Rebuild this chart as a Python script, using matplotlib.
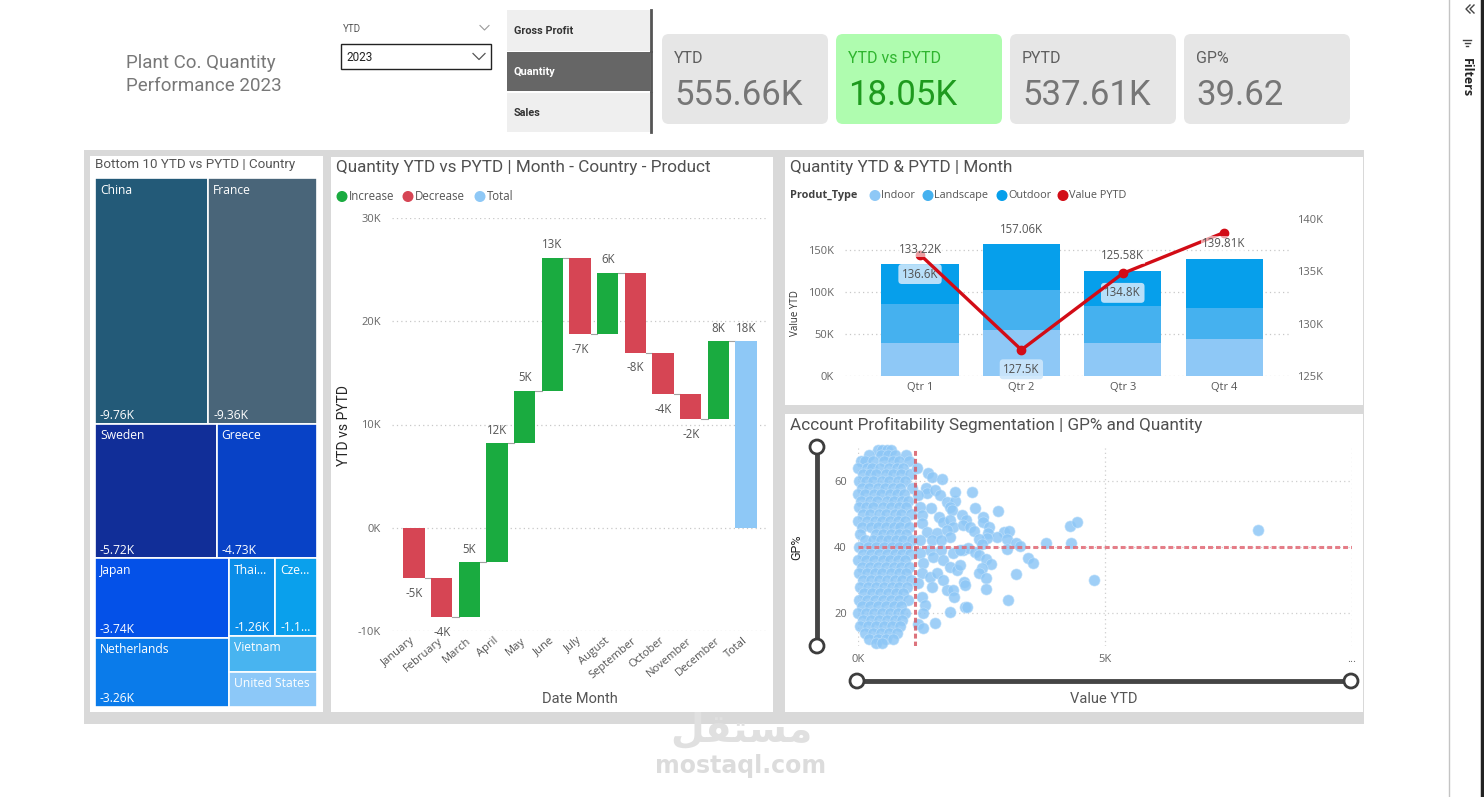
import matplotlib
matplotlib.use("Agg")
import matplotlib.pyplot as plt
from matplotlib.patches import Rectangle, FancyBboxPatch, Circle
import numpy as np

W, H = 1484, 797
DIN = ['Roboto', 'DejaVu Sans']
SEGOE = ['Open Sans', 'DejaVu Sans']

# ---- data ----
kpi_labels = ["YTD", "YTD vs PYTD", "PYTD", "GP%"]
kpi_values = ["555.66K", "18.05K", "537.61K", "39.62"]
buttons = ["Gross Profit", "Quantity", "Sales"]

countries = ["China", "France", "Sweden", "Greece", "Japan", "Netherlands",
             "Thailand", "Czechia", "Vietnam", "United States"]
country_diff_k = [-9.76, -9.36, -5.72, -4.73, -3.74, -3.26, -1.26, -1.13, -1.12, -1.08]
country_colors = ['#235a78', '#496579', '#112e98', '#0842c6', '#0451e8', '#0a7bea',
                  '#0a8de8', '#0aa0ec', '#48b4f0', '#8cc8f8']
short_names = {"Thailand": "Thai...", "Czechia": "Cze..."}

months = ["January", "February", "March", "April", "May", "June", "July",
          "August", "September", "October", "November", "December"]
month_diff_k = [-4.87, -3.81, 5.33, 11.51, 5.13, 12.87, -7.42, 5.97, -7.75, -3.98, -2.45, 7.52]

quarters = ["Qtr 1", "Qtr 2", "Qtr 3", "Qtr 4"]
indoor_k = [39.5, 54.5, 39.5, 44.3]
landscape_k = [45.9, 47.5, 43.5, 36.3]
outdoor_k = [47.82, 55.06, 42.58, 59.21]
pytd_k = [136.6, 127.5, 134.8, 138.71]

# scatter: dense cluster read row by row (GP% row, Value YTD in K)
blob_gp = [69.5, 68, 66, 64, 62, 60, 58, 56, 54, 52, 50, 48, 46, 44, 42, 40, 38, 36,
           34, 32, 30, 28, 26, 24, 22, 20, 18, 16, 14, 12, 11]
blob_val = [
    [0.40, 0.48, 0.58, 0.66],
    [0.22, 0.46, 0.60, 0.74, 0.98],
    [0.06, 0.14, 0.30, 0.52, 0.70, 0.84, 1.04],
    [0.00, 0.18, 0.28, 0.44, 0.62, 0.78, 0.92],
    [0.10, 0.24, 0.36, 0.56, 0.70, 0.88, 1.06],
    [0.02, 0.16, 0.30, 0.48, 0.62, 0.80, 0.96],
    [0.08, 0.22, 0.40, 0.54, 0.70, 0.86, 1.10],
    [0.00, 0.14, 0.32, 0.46, 0.64, 0.78, 0.94],
    [0.06, 0.24, 0.38, 0.58, 0.72, 0.90, 1.02],
    [0.02, 0.16, 0.30, 0.50, 0.66, 0.82, 0.98],
    [0.10, 0.24, 0.42, 0.56, 0.74, 0.88, 1.08],
    [0.00, 0.18, 0.34, 0.48, 0.64, 0.80, 0.96],
    [0.08, 0.26, 0.40, 0.56, 0.72, 0.86, 1.04],
    [0.04, 0.36, 0.50, 0.66, 0.82, 0.98],
    [0.14, 0.30, 0.46, 0.60, 0.76, 0.92, 1.10],
    [0.02, 0.20, 0.36, 0.52, 0.68, 0.84, 1.00],
    [0.10, 0.26, 0.42, 0.58, 0.74, 0.90, 1.06],
    [0.00, 0.16, 0.32, 0.50, 0.64, 0.80, 0.96],
    [0.08, 0.24, 0.40, 0.56, 0.72, 0.88, 1.04],
    [0.02, 0.18, 0.34, 0.48, 0.66, 0.82, 0.98],
    [0.10, 0.26, 0.42, 0.58, 0.74, 0.90, 1.08],
    [0.04, 0.20, 0.36, 0.52, 0.68, 0.84, 1.00],
    [0.12, 0.28, 0.44, 0.60, 0.76, 0.92],
    [0.02, 0.18, 0.34, 0.50, 0.66, 0.82, 1.02],
    [0.08, 0.24, 0.40, 0.56, 0.72, 0.88],
    [0.00, 0.16, 0.32, 0.48, 0.64, 0.80, 0.96],
    [0.10, 0.26, 0.42, 0.58, 0.74, 0.90],
    [0.04, 0.20, 0.36, 0.52, 0.68, 0.86],
    [0.14, 0.30, 0.46, 0.62, 0.78],
    [0.22, 0.40, 0.56, 0.70],
    [0.36, 0.48],
]
# scattered accounts outside the cluster (Value YTD K, GP%)
outliers = [
    (1.19, 63.8), (1.41, 62.3), (1.49, 61.3), (1.71, 60.5), (1.38, 57.8), (1.40, 56.3),
    (1.56, 57.3), (1.22, 55.8), (1.66, 55.8), (1.80, 53.7), (1.96, 53.9), (1.96, 56.8),
    (1.48, 51.9), (1.26, 52.2), (1.86, 52.2), (1.90, 51.2), (1.63, 49.2), (1.73, 47.7),
    (1.86, 48.2), (1.93, 46.0), (1.29, 49.7), (1.29, 47.2), (1.39, 44.6), (1.59, 44.2),
    (1.80, 45.2), (1.86, 43.1), (1.49, 42.1), (1.69, 42.1), (1.26, 42.1), (1.46, 39.1),
    (1.69, 39.1), (1.93, 38.1), (1.26, 38.1), (1.32, 35.1), (1.52, 37.1), (1.73, 36.1),
    (1.86, 34.0), (2.00, 33.0), (1.29, 32.0), (1.46, 31.0), (1.59, 32.0), (1.73, 30.0),
    (1.22, 29.0), (1.49, 28.0), (1.80, 27.0), (1.93, 27.0), (1.29, 24.9), (1.36, 22.4),
    (1.31, 19.9), (1.86, 20.4), (1.94, 24.9), (1.56, 17.1), (1.22, 16.7), (1.31, 15.4),
    (2.31, 56.8), (2.37, 51.9), (2.84, 50.9), (2.54, 49.2), (2.54, 47.7), (2.10, 49.7),
    (2.19, 48.2), (2.13, 46.7), (2.27, 46.2), (2.35, 44.9), (2.66, 46.0), (2.64, 44.2),
    (4.29, 46.5), (4.43, 47.7), (2.96, 44.6), (3.06, 44.8), (2.82, 42.9), (3.02, 42.4),
    (2.62, 42.6), (2.45, 42.3), (2.52, 40.8), (3.20, 41.1), (3.27, 40.3), (3.81, 41.1),
    (4.31, 41.1), (3.02, 39.5), (2.13, 39.1), (2.23, 39.6), (2.37, 38.6), (2.44, 37.6),
    (2.60, 36.3), (2.69, 34.8), (2.50, 33.7), (2.45, 32.0), (2.60, 30.7), (3.45, 36.6),
    (3.55, 35.1), (3.20, 31.7), (4.78, 30.0), (2.06, 34.5), (2.15, 29.5), (2.17, 28.5),
    (2.60, 27.3), (3.03, 23.9), (2.17, 21.9), (2.21, 21.7), (8.10, 45.2), (2.06, 39.1),
]
gp_target = 40
value_target_k = 1.15

GREEN, RED, TOTAL = '#1aab40', '#d64554', '#8ec8f6'
INDOOR, LANDSCAPE, OUTDOOR, LINE = '#8ec8f6', '#45b1ef', '#069feb', '#d20c16'
DOT_BLUE = '#8ec7f6'

fig = plt.figure(figsize=(W / 100, H / 100), dpi=100)
bg = fig.add_axes([0, 0, 1, 1], zorder=0)
bg.set_xlim(0, W)
bg.set_ylim(H, 0)
bg.axis('off')


def px_axes(x0, y0, x1, y1):
    a = fig.add_axes([x0 / W, 1 - y1 / H, (x1 - x0) / W, (y1 - y0) / H], zorder=2)
    a.set_facecolor('none')
    return a


def txt(x, y, s, size=9, color='#333333', family=SEGOE, ha='left', va='center', **kw):
    bg.text(x, y, s, fontsize=size, color=color, family=family, ha=ha, va=va, **kw)


def box(x0, y0, x1, y1, color, **kw):
    bg.add_patch(Rectangle((x0, y0), x1 - x0, y1 - y0, facecolor=color, edgecolor='none', **kw))


# ---- page and panels ----
box(84, 5, 1364, 724, '#d9d9d9')
box(84, 5, 1364, 150, 'white')
box(90, 156, 323, 712, 'white')
box(331, 157, 773, 712, 'white')
box(785, 157, 1363, 405, 'white')
box(785, 414, 1363, 712, 'white')

# filters pane
bg.plot([1449, 1449], [0, H], color='#c4c4c4', lw=1)
bg.plot([1482, 1482], [0, H], color='#222222', lw=2.5)
txt(1466, 78, "Filters", size=9, color='#222222', rotation=270, ha='center', weight='bold')
bg.plot([1470, 1466, 1470], [5, 9, 13], color='#444444', lw=1)
bg.plot([1474, 1470, 1474], [5, 9, 13], color='#444444', lw=1)
for y, hw in [(40, 4), (43, 2.5), (46, 1)]:
    bg.plot([1467 - hw, 1467 + hw], [y, y], color='#444444', lw=1)

# watermark
txt(741, 731, "\ufede\ufed8\ufe98\ufeb4\ufee3", size=28, color='#e0e0e0',
    family=['DejaVu Sans'], ha='center', weight='bold')
txt(741, 766, "mostaql.com", size=17, color='#dcdcdc', family=['DejaVu Sans'],
    ha='center', weight='bold')

# ---- header ----
txt(126, 63, "Plant Co. Quantity", size=13.5, color='#787878', family=DIN)
txt(126, 86, "Performance 2023", size=13.5, color='#787878', family=DIN)

txt(343, 29, "YTD", size=7, color='#555555', family=DIN)
bg.plot([480, 484.5, 489], [25.5, 30, 25.5], color='#9a9a9a', lw=0.8)
bg.add_patch(Rectangle((341, 44), 150, 25, facecolor='white', edgecolor='#222222', lw=1))
txt(346, 57, "2023", size=8.5, color='#222222', family=DIN)
bg.plot([473, 479, 485], [53.5, 59.5, 53.5], color='#555555', lw=0.9)

btn_rows = [(10, 51), (52, 91), (93, 132)]
for name, (y0, y1) in zip(buttons, btn_rows):
    active = name == "Quantity"
    box(507, y0, 650, y1, '#666666' if active else '#efefef')
    txt(514, (y0 + y1) / 2, name, size=7.8, color='white' if active else '#333333',
        weight='bold', family=DIN)
    bg.plot([651, 651], [y0, y1], color='#555555', lw=2)

card_x = [662, 836, 1010, 1184]
for x0, lab, val in zip(card_x, kpi_labels, kpi_values):
    good = lab == "YTD vs PYTD"
    bg.add_patch(FancyBboxPatch((x0, 34), 166, 90, boxstyle="round,pad=0,rounding_size=7",
                                facecolor='#affcaf' if good else '#e6e6e6', edgecolor='none'))
    txt(x0 + 12, 58, lab, size=11.5, color='#2fb52f' if good else '#5f5f5f', family=DIN)
    txt(x0 + 12, 95, val, size=25, color='#1e9a1e' if good else '#767676', family=DIN)

# ---- treemap ----
txt(95, 164, "Bottom 10 YTD vs PYTD | Country", size=9.6, color='#555555', family=DIN)
tm_w, tm_h = 222, 529


def squarify(vals, x0, y0, x1, y1, ratio=(1 + 5 ** 0.5) / 2):
    rects, remaining, i0, n = [], sum(vals), 0, len(vals)
    while i0 < n:
        dx, dy = x1 - x0, y1 - y0
        s = mn = mx = vals[i0]
        alpha = max(dy / dx, dx / dy) / (remaining * ratio)
        beta = s * s * alpha
        best = max(mx / beta, beta / mn)
        i1 = i0 + 1
        while i1 < n:
            v = vals[i1]
            beta = (s + v) ** 2 * alpha
            r = max(max(mx, v) / beta, beta / min(mn, v))
            if r > best:
                break
            s += v
            mn, mx, best = min(mn, v), max(mx, v), r
            i1 += 1
        if dx < dy:
            h = dy * s / remaining
            xx = x0
            for v in vals[i0:i1]:
                rects.append((xx, y0, dx * v / s, h))
                xx += dx * v / s
            y0 += h
        else:
            w = dx * s / remaining
            yy = y0
            for v in vals[i0:i1]:
                rects.append((x0, yy, w, dy * v / s))
                yy += dy * v / s
            x0 += w
        remaining -= s
        i0 = i1
    return rects


tm = px_axes(95, 178, 95 + tm_w, 178 + tm_h)
tm.set_xlim(0, tm_w)
tm.set_ylim(tm_h, 0)
tm.axis('off')
tiles = squarify([abs(v) for v in country_diff_k], 0, 0, tm_w, tm_h)
for (x, y, w, h), name, val, col in zip(tiles, countries, country_diff_k, country_colors):
    tm.add_patch(Rectangle((x, y), w, h, facecolor=col, edgecolor='white', lw=1.2))
    shown = short_names.get(name, name) if w < 60 else name
    tm.text(x + 5, y + 12, shown, color='white', fontsize=8.7, family=SEGOE, va='center')
    if h > 60:
        vs = f"{val:.2f}K"
        if w < 44:
            vs = vs[:4] + "..."
        tm.text(x + 5, y + h - 8, vs, color='white', fontsize=8.7, family=SEGOE, va='center')

# ---- waterfall ----
txt(336, 167, "Quantity YTD vs PYTD | Month - Country - Product", size=12.3,
    color='#505050', family=DIN)
for x, c, lab in [(342, GREEN, "Increase"), (408, RED, "Decrease"), (480, TOTAL, "Total")]:
    bg.add_patch(Circle((x, 196.5), 4.8, color=c))
    txt(x + 7, 196.5, lab, size=8.3, color='#555555')

wf = px_axes(392, 218, 768, 631)
cum = np.concatenate([[0], np.cumsum(month_diff_k)])
bw = 0.78
for i, d in enumerate(month_diff_k):
    lo, hi = sorted((cum[i], cum[i + 1]))
    wf.bar(i, hi - lo, bottom=lo, width=bw, color=GREEN if d > 0 else RED, zorder=3)
    if d > 0:
        wf.annotate(f"{round(d)}K", (i, hi), xytext=(0, 9.5), textcoords='offset points',
                    ha='center', va='center', fontsize=8.3, color='#555555', family=SEGOE)
    else:
        wf.annotate(f"{round(d)}K", (i, lo), xytext=(0, -11), textcoords='offset points',
                    ha='center', va='center', fontsize=8.3, color='#555555', family=SEGOE)
    wf.plot([i + bw / 2, i + 1 - bw / 2], [cum[i + 1]] * 2, color='#a0a0a0', lw=0.8, zorder=2)
total = cum[-1]
wf.bar(12, total, width=bw, color=TOTAL, zorder=3)
wf.annotate(f"{round(total)}K", (12, total), xytext=(0, 9.5), textcoords='offset points',
            ha='center', va='center', fontsize=8.3, color='#555555', family=SEGOE)
wf.set_xlim(-0.795, 12.795)
wf.set_ylim(-10, 30)
wf.set_yticks([-10, 0, 10, 20, 30])
wf.set_yticklabels([f"{t}K" for t in [-10, 0, 10, 20, 30]], family=SEGOE)
wf.set_xticks(range(13))
wf.set_xticklabels(months + ["Total"], rotation=40, ha='right', va='center',
                   rotation_mode='anchor', family=SEGOE)
wf.tick_params(axis='y', length=0, labelsize=8, labelcolor='#666666', pad=8)
wf.tick_params(axis='x', length=0, labelsize=8, labelcolor='#555555', pad=6)
wf.yaxis.grid(True, linestyle=(0, (1, 2.5)), color='#c8c8c8', lw=0.9)
wf.set_axisbelow(True)
for s in wf.spines.values():
    s.set_visible(False)
txt(344, 425, "YTD vs PYTD", size=10, color='#252525', family=DIN, rotation=90, ha='center')
txt(580, 699, "Date Month", size=10.5, color='#555555', family=DIN, ha='center')

# ---- combo chart ----
txt(790, 167, "Quantity YTD & PYTD | Month", size=12.3, color='#505050', family=DIN)
txt(790, 195.5, "Produt_Type", size=7.8, color='#404040', weight='bold')
for x, c, lab in [(875, INDOOR, "Indoor"), (928, LANDSCAPE, "Landscape"),
                  (1002, OUTDOOR, "Outdoor"), (1063, LINE, "Value PYTD")]:
    bg.add_patch(Circle((x, 195.5), 4.8, color=c))
    txt(x + 6, 195.5, lab, size=7.8, color='#555555')
txt(795, 313, "Value YTD", size=7, color='#303030', rotation=90, ha='center')

cb = px_axes(845, 219, 1290, 376)
xq = np.arange(len(quarters))
ind, lsc, out = np.array(indoor_k), np.array(landscape_k), np.array(outdoor_k)
cb.bar(xq, ind, width=0.76, color=INDOOR, zorder=3)
cb.bar(xq, lsc, bottom=ind, width=0.76, color=LANDSCAPE, zorder=3)
cb.bar(xq, out, bottom=ind + lsc, width=0.76, color=OUTDOOR, zorder=3)
cb.set_xlim(-0.74, 3.65)
cb.set_ylim(0, 186.9)
cb.set_yticks([0, 50, 100, 150])
cb.set_yticklabels([f"{t}K" for t in [0, 50, 100, 150]], family=SEGOE)
cb.set_xticks(xq)
cb.set_xticklabels(quarters, family=SEGOE)
cb.tick_params(axis='y', length=0, labelsize=8, labelcolor='#666666', pad=8)
cb.tick_params(axis='x', length=0, labelsize=8, labelcolor='#555555', pad=4)
cb.yaxis.grid(True, linestyle=(0, (1, 2.5)), color='#c8c8c8', lw=0.9)
cb.set_axisbelow(True)
for s in cb.spines.values():
    s.set_visible(False)

cr = cb.twinx()
cr.set_facecolor('none')
cr.set_ylim(125, 140)
cr.set_yticks([125, 130, 135, 140])
cr.set_yticklabels([f"{t}K" for t in [125, 130, 135, 140]], family=SEGOE)
cr.tick_params(axis='y', length=0, labelsize=8, labelcolor='#666666', pad=5)
for s in cr.spines.values():
    s.set_visible(False)
for i in range(3):
    cr.annotate(f"{pytd_k[i]:.1f}K", (xq[i], pytd_k[i]), xytext=(0, -14),
                textcoords='offset points', ha='center', va='center', fontsize=8.3,
                color='#505050', family=SEGOE, zorder=4,
                bbox=dict(boxstyle='round,pad=0.3', facecolor='#cde7fb', edgecolor='none',
                          alpha=0.9))
cr.plot(xq, pytd_k, color=LINE, lw=2.4, marker='o', ms=6, zorder=5)
totals = ind + lsc + out
for i, t in enumerate(totals):
    cr.annotate(f"{t:.2f}K", (xq[i], t), xycoords=cb.transData, xytext=(0, 10.5),
                textcoords='offset points', ha='center', va='center', fontsize=8.3,
                color='#555555', family=SEGOE, zorder=6,
                bbox=dict(boxstyle='square,pad=0.1', facecolor='white', edgecolor='none',
                          alpha=0.6))

# ---- scatter ----
txt(790, 425, "Account Profitability Segmentation | GP% and Quantity", size=12.3,
    color='#505050', family=DIN)
sc = px_axes(858, 448, 1352, 646)
bx = [v for row in blob_val for v in row]
by = [g for g, row in zip(blob_gp, blob_val) for _ in row]
ox = [p[0] for p in outliers]
oy = [p[1] for p in outliers]
sc.scatter(bx + ox, by + oy, s=64, color=DOT_BLUE, alpha=0.85, edgecolors='#bfe0fb',
           linewidths=0.5, zorder=3, clip_on=False)
sc.set_xlim(0, 10)
sc.set_ylim(10, 70)
sc.set_yticks([20, 40, 60])
sc.set_xticks([0, 5, 10])
sc.set_xticklabels(["0K", "5K", "..."], family=SEGOE)
sc.set_yticklabels(["20", "40", "60"], family=SEGOE)
sc.tick_params(length=0, labelsize=8, labelcolor='#666666')
sc.tick_params(axis='y', pad=8)
sc.tick_params(axis='x', pad=6)
sc.grid(True, linestyle=(0, (1, 2.5)), color='#cfcfcf', lw=0.9)
sc.set_axisbelow(True)
for s in sc.spines.values():
    s.set_visible(False)
sc.axhline(gp_target, color='#e26874', lw=2.2, ls=(0, (1.6, 1.0)), alpha=0.85, zorder=4)
sc.axvline(value_target_k, color='#d65a66', lw=2.2, ls=(0, (1.6, 1.0)), alpha=0.85, zorder=4)

# slicer handles
bg.plot([817, 817], [447, 646], color='#454545', lw=3.5, zorder=1)
bg.plot([857, 1351], [681, 681], color='#454545', lw=3.5, zorder=1)
for cx, cy in [(817, 447), (817, 646), (857, 681), (1351, 681)]:
    bg.add_patch(Circle((cx, cy), 7, facecolor='white', edgecolor='#3d3d3d', lw=2, zorder=2))
txt(797, 547, "GP%", size=9, color='#252525', family=DIN, rotation=90, ha='center')
txt(1104, 699, "Value YTD", size=10.5, color='#555555', family=DIN, ha='center')

fig.savefig("out.png", dpi=100)
